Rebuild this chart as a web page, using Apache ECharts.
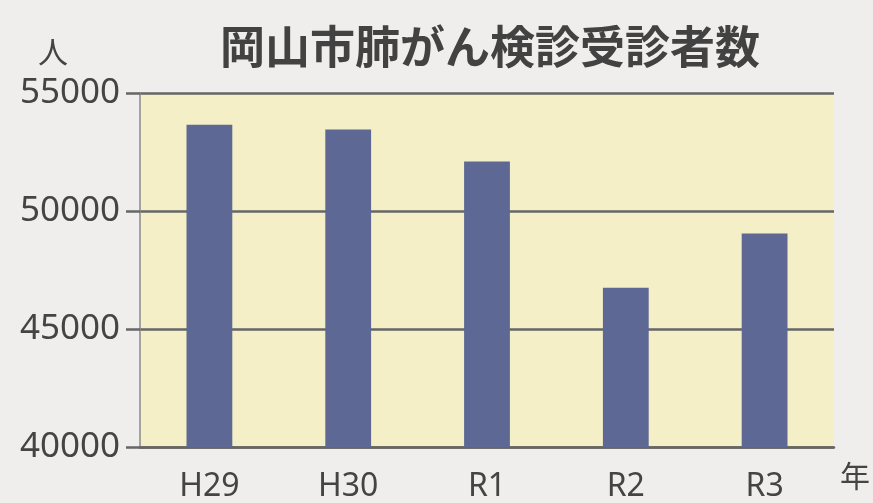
<!DOCTYPE html>
<html><head><meta charset="utf-8">
<script src="https://cdn.jsdelivr.net/npm/echarts@6/dist/echarts.min.js"></script>
<style>html,body{margin:0;padding:0;background:#efeeec;}#c{width:873px;height:503px;}</style>
</head><body><div id="c"></div>
<script>
const categories = ['H29', 'H30', 'R1', 'R2', 'R3'];
const examinees = [53650, 53450, 52100, 46750, 49050];
const yTicks = [40000, 45000, 50000, 55000];
const titleText = '岡山市肺がん検診受診者数';

const chart = echarts.init(document.getElementById('c'));
chart.setOption({
  backgroundColor: '#efeeec',
  animation: false,
  title: {
    text: titleText, left: 485, top: 19, textAlign: 'center',
    textStyle: { fontFamily: 'Noto Sans CJK JP', fontWeight: 'bold', fontSize: 45, color: '#424242' }
  },
  grid: { left: 140, right: 36, top: 93, bottom: 49, show: true, backgroundColor: '#f4efc6', borderWidth: 0 },
  xAxis: {
    type: 'category', data: categories,
    name: '年', nameLocation: 'end', nameGap: 6,
    nameTextStyle: { fontFamily: 'Noto Sans CJK JP', fontSize: 30, color: '#444', verticalAlign: 'top', padding: [14, 0, 0, 0] },
    axisLine: { lineStyle: { color: '#666', width: 2.5 } },
    axisTick: { show: false },
    axisLabel: { fontFamily: 'Noto Sans', fontSize: 32, color: '#444', margin: 24 }
  },
  yAxis: {
    type: 'value', min: yTicks[0], max: yTicks[yTicks.length - 1], interval: 5000,
    name: '人', nameLocation: 'end', nameGap: 26,
    nameTextStyle: { fontFamily: 'Noto Sans CJK JP', fontSize: 30, color: '#444', align: 'right', padding: [0, 72, 0, 0] },
    axisLine: { show: true, lineStyle: { color: '#8a8a8a', width: 1.5 } },
    axisTick: { show: true, length: 14, lineStyle: { color: '#666', width: 2.5 } },
    axisLabel: { fontFamily: 'Noto Sans', fontSize: 35, color: '#444', margin: 20, formatter: v => String(v) },
    splitLine: { lineStyle: { color: '#666', width: 2.5 } }
  },
  series: [{
    type: 'bar', data: examinees, barWidth: '33%',
    itemStyle: { color: '#5e6894' }
  }]
});
</script></body></html>
